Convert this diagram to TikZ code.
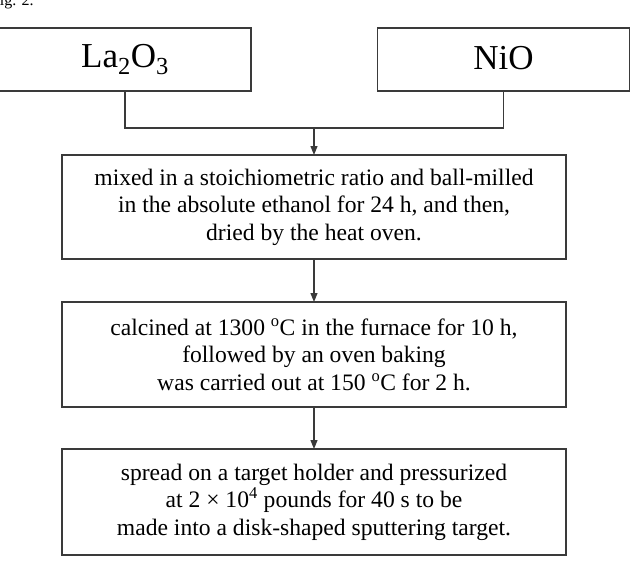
\documentclass[tikz,border=0pt]{standalone}
\usepackage{fontspec}
\setmainfont{Liberation Serif}
\usetikzlibrary{arrows.meta}
\definecolor{ln}{HTML}{3A3A3A}
\begin{document}
\begin{tikzpicture}[x=1pt,y=-1pt,
  every node/.style={inner sep=0pt, outer sep=0pt},
  stepbox/.style={draw=ln, line width=1.2pt, minimum width=504pt, align=center,
    font=\fontsize{23.6}{27.6}\selectfont},
  chembox/.style={draw=ln, line width=1.2pt, minimum width=252pt, minimum height=63pt,
    font=\fontsize{35}{38}\selectfont},
  conn/.style={draw=ln, line width=1.2pt},
  arr/.style={conn, -{Triangle[length=9pt,width=7pt]}}]
\useasboundingbox (0,0) rectangle (641,579);
\node[anchor=base west, font=\fontsize{16}{18}\selectfont] (fig) at (-9,5) {Fig. 2.};
\node[chembox] (la) at (125,59.5) {\raisebox{3pt}{La\textsubscript{2}O\textsubscript{3}}};
\node[chembox] (nio) at (503.5,59.5) {\raisebox{3pt}{NiO}};
\node[stepbox, minimum height=104pt] (b2) at (314,207) {mixed in a stoichiometric ratio and ball-milled\\in the absolute ethanol for 24 h, and then,\\dried by the heat oven.};
\node[stepbox, minimum height=105pt] (b3) at (314,354.5) {calcined at 1300 \textsuperscript{o}C in the furnace for 10 h,\\followed by an oven baking\\was carried out at 150 \textsuperscript{o}C for 2 h.};
\node[stepbox, minimum height=106pt] (b4) at (314,502) {spread on a target holder and pressurized\\at 2 × 10\textsuperscript{4} pounds for 40 s to be\\made into a disk-shaped sputtering target.};
\coordinate (j) at (314,128);
\draw[conn] (la.south) |- (j) -| (nio.south);
\draw[arr] (j) -- (b2.north);
\draw[arr] (b2.south) -- (b3.north);
\draw[arr] (b3.south) -- (b4.north);
\end{tikzpicture}
\end{document}
